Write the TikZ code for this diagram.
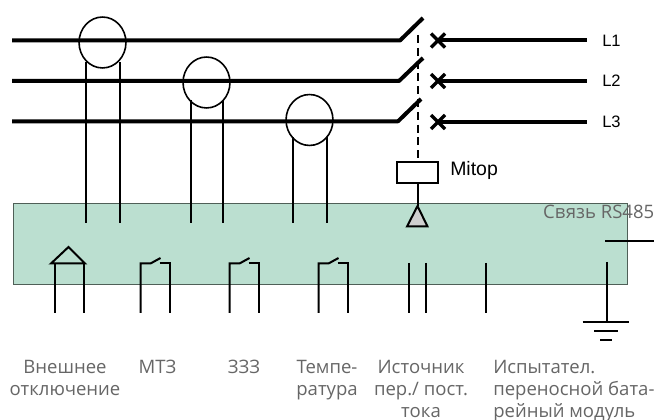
\documentclass[tikz,border=0pt]{standalone}
\usepackage{fontspec}
\setmainfont{Open Sans}
\newfontfamily\arialf{Liberation Sans}
\definecolor{panel}{HTML}{BBDFD0}
\definecolor{paneledge}{HTML}{4F5F57}
\definecolor{lab}{HTML}{666666}
\definecolor{trifill}{HTML}{CFCFCF}
\tikzset{
 bus/.style={line width=3pt,line cap=butt},
 wire/.style={line width=1.5pt},
 ct/.style={draw,ellipse,line width=1.2pt,inner sep=0pt,minimum width=35.2pt,minimum height=38.2pt},
 lbl/.style={font=\fontsize{13.9pt}{16.5pt}\selectfont,text=lab,align=center,inner sep=0pt},
 lbll/.style={lbl,align=left},
 phase/.style={font=\arialf\fontsize{12.4pt}{14pt}\selectfont,text=black,inner sep=0pt,anchor=west},
 mitoplabel/.style={font=\arialf\fontsize{14.6pt}{16pt}\selectfont,text=black,inner sep=0pt,anchor=west},
}
\usetikzlibrary{shapes.geometric}
\begin{document}
\begin{tikzpicture}[x=0.75pt,y=-0.75pt]
\useasboundingbox (0,0) rectangle (671,420);
\node[draw=paneledge,fill=panel,line width=0.9pt,minimum width=460.9pt,minimum height=60.6pt,inner sep=0pt,anchor=north west] (panel) at (12.5,203) {};
% buses
\coordinate (a1) at (12,40.5); \coordinate (h1) at (400,40.5); \coordinate (t1) at (423,18);
\coordinate (a2) at (12,81); \coordinate (h2) at (399,81); \coordinate (t2) at (423,58);
\coordinate (a3) at (12,121.3); \coordinate (h3) at (398,121.3); \coordinate (t3) at (421,99);
\draw[bus,line join=bevel] (a1)--(h1)--(t1);
\draw[bus,line join=bevel] (a2)--(h2)--(t2);
\draw[bus,line join=bevel] (a3)--(h3)--(t3);
% right side
\foreach \i/\y in {1/40.5,2/81,3/122}{
 \coordinate (x\i) at (438,\y);
 \coordinate (e\i) at (587,\y);
 \node[phase] (L\i) at (602,\y) {L\i};
 \draw[bus] (x\i)--(e\i);
 \draw[line width=2.6pt] (431,\y-7)--(445,\y+7) (431,\y+7)--(445,\y-7);
}
% current transformers
\foreach \n/\cx/\cy/\l/\r/\s in {1/102.5/42.5/85.5/119.5/62,2/206.5/82.5/190.5/222.5/100,3/309.5/120/292.5/326.5/137}{
 \node[ct] (ct\n) at (\cx,\cy) {};
 \coordinate (cl\n) at (\l,\s); \coordinate (cle\n) at (\l,223);
 \coordinate (cr\n) at (\r,\s); \coordinate (cre\n) at (\r,223);
 \draw[wire] (cl\n)--(cle\n) (cr\n)--(cre\n);
}
% relay
\node[draw,fill=white,line width=1.2pt,minimum width=31pt,minimum height=15.6pt,inner sep=0pt] (rel) at (417.5,172.5) {};
\node[mitoplabel] (mitop) at (450,170) {Mitop};
\coordinate (dtop) at (417.5,35);
\draw[wire,dashed,dash pattern=on 6pt off 3.6pt] (dtop)--(rel.north);
\coordinate (tria) at (417.5,206);
\draw[wire,fill=trifill,line join=miter] (tria)--(407,226.5)--(427.5,226.5)--cycle;
\draw[wire] (rel.south)--(tria);
% ext trip
\coordinate (ea) at (68.5,247);
\draw[line width=1.5pt] (ea)--(85,263.5)--(51,263.5)--cycle;
\coordinate (el) at (54.5,313); \coordinate (er) at (83.5,313);
\draw[wire] (54.5,263)--(el) (83.5,263)--(er);
% contacts
\foreach \n/\l in {1/140.5,2/229.5,3/318.5}{
 \coordinate (kl\n) at (\l,313);
 \coordinate (kr\n) at (\l+29,313);
 \draw[wire] (kl\n)--(\l,263.5)--(\l+10,263.5)--(\l+20,258);
 \draw[wire] (\l+19,263.5)--(\l+29,263.5)--(kr\n);
}
% source + test
\foreach \n/\x in {1/408.5,2/425.5,3/485.5}{
 \coordinate (sa\n) at (\x,263); \coordinate (sb\n) at (\x,313);
 \draw[wire] (sa\n)--(sb\n);
}
% ground
\coordinate (g0) at (606.5,262); \coordinate (g1) at (606.5,321);
\draw[wire] (g0)--(g1);
\draw[wire] (582.7,321.5)--(629.3,321.5) (594,330.5)--(618,330.5) (600,339.5)--(612,339.5);
\coordinate (rsa) at (605,241); \coordinate (rsb) at (654,241);
\draw[wire] (rsa)--(rsb);
% texts
\node[lbl,anchor=north east] (rs) at (654.5,205) {Связь RS485};
\node[lbl,anchor=north] (t1l) at (65,360) {Внешнее\\отключение};
\node[lbl,anchor=north] (t2l) at (157.5,360) {МТЗ};
\node[lbl,anchor=north] (t3l) at (244,360) {ЗЗЗ};
\node[lbl,anchor=north] (t4l) at (327,360) {Темпе-\\ратура};
\node[lbl,anchor=north] (t5l) at (421,360) {Источник\\пер./ пост.\\тока};
\node[lbll,anchor=north west] (t6l) at (493,360) {Испытател.\\переносной бата-\\рейный модуль};
\end{tikzpicture}
\end{document}
